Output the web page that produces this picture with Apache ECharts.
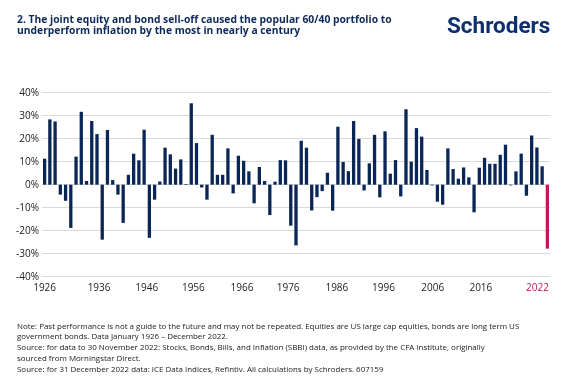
<!DOCTYPE html>
<html>
<head>
<meta charset="utf-8">
<script src="https://cdn.jsdelivr.net/npm/echarts@6/dist/echarts.min.js"></script>
<style>
html,body{margin:0;padding:0;background:#fff;}
#c{width:568px;height:379px;}
</style>
</head>
<body>
<div id="c"></div>
<script>
const years = [];
for (let y = 1926; y <= 2022; y++) years.push(String(y));

const returns = [
  11.3, 28.4, 27.5, -4.3, -7.0, -18.8, 12.2, 31.7, 1.6, 27.7,
  22.0, -23.9, 23.8, 2.0, -4.3, -16.6, 4.3, 13.5, 10.6, 23.9,
  -23.1, -6.5, 1.4, 16.1, 13.2, 7.0, 11.0, 0.3, 35.4, 18.1,
  -1.2, -6.5, 21.7, 4.3, 4.3, 15.8, -3.8, 12.6, 10.4, 5.8,
  -8.1, 7.7, 1.6, -13.2, 1.3, 10.7, 10.6, -17.8, -26.4, 19.1,
  16.1, -11.2, -5.4, -2.8, 5.2, -11.3, 25.2, 9.9, 5.9, 27.7,
  19.9, -2.5, 9.3, 21.7, -5.5, 23.2, 4.8, 10.7, -5.1, 32.8,
  10.0, 24.6, 20.9, 6.4, -0.3, -7.4, -8.7, 15.8, 6.8, 2.6,
  7.5, 3.2, -12.0, 7.4, 11.7, 9.1, 9.1, 13.0, 17.4, -0.3,
  5.8, 13.5, -4.8, 21.4, 16.2, 8.0, -27.8
];

const tickLabels = ['1926', '1936', '1946', '1956', '1966', '1976', '1986', '1996', '2006', '2016', '2022'];
const tickLabelPositions = [1926, 1936.4, 1945.5, 1954.4, 1963.7, 1972.5, 1981.8, 1990.7, 2000.1, 2009.3, 2020.1];

const navy = '#0a2656';
const pink = '#c2185b';

const chart = echarts.init(document.getElementById('c'), null, {renderer: 'canvas'});
chart.setOption({
  animation: false,
  backgroundColor: '#fff',
  title: [
    {
      text: '2. The joint equity and bond sell-off caused the popular 60/40 portfolio to\nunderperform inflation by the most in nearly a century',
      left: 17, top: 15, padding: 0,
      textStyle: {fontFamily: 'Open Sans', fontWeight: 'bold', fontSize: 10.3, lineHeight: 10.5, color: '#0d2a5a'}
    },
    {
      text: 'Schroders',
      left: 447, top: 16, padding: 0,
      textStyle: {fontFamily: 'Roboto', fontWeight: 'bold', fontSize: 22.5, color: '#0e2f6e'}
    },
    {
      text: 'Note: Past performance is not a guide to the future and may not be repeated. Equities are US large cap equities, bonds are long term US\ngovernment bonds. Data January 1926 \u2013 December 2022.\nSource: for data to 30 November 2022: Stocks, Bonds, Bills, and Inflation (SBBI) data, as provided by the CFA Institute, originally\nsourced from Morningstar Direct.\nSource: for 31 December 2022 data: ICE Data Indices, Refintiv. All calculations by Schroders. 607159',
      left: 17, top: 321, padding: 0,
      textStyle: {fontFamily: 'Open Sans', fontWeight: 'normal', fontSize: 7.95, lineHeight: 10.8, color: '#1a1a1a'}
    }
  ],
  grid: {left: 42, right: 18, top: 92.7, bottom: 102.3, containLabel: false},
  xAxis: [
    {
      type: 'category', data: years, boundaryGap: true,
      axisLine: {show: false}, axisTick: {show: false}, axisLabel: {show: false}, splitLine: {show: false}
    },
    {
      type: 'value', min: 1925.5, max: 2022.5, position: 'bottom',
      axisLine: {show: false}, axisTick: {show: false}, splitLine: {show: false},
      axisLabel: {
        show: true, margin: 6, customValues: tickLabelPositions,
        fontFamily: 'Open Sans', fontSize: 10, color: '#222',
        formatter: function (v) {
          let best = 0, bd = 1e9;
          tickLabelPositions.forEach(function (p, i) { const d = Math.abs(p - v); if (d < bd) { bd = d; best = i; } });
          const t = tickLabels[best];
          return t === '2022' ? '{p|' + t + '}' : t;
        },
        rich: {p: {color: pink, fontFamily: 'Open Sans', fontSize: 10}}
      }
    }
  ],
  yAxis: {
    type: 'value', min: -40, max: 40, interval: 10,
    axisLine: {show: false}, axisTick: {show: false},
    splitLine: {show: true, lineStyle: {color: '#d9d9d9', width: 1}},
    axisLabel: {margin: 3, fontFamily: 'Open Sans', fontSize: 10, color: '#222', formatter: function (v) { return v + '%'; }}
  },
  series: [{
    type: 'bar', xAxisIndex: 0,
    data: returns.map(function (v, i) {
      return {value: v, itemStyle: {color: years[i] === '2022' ? pink : navy}};
    }),
    barCategoryGap: '37%'
  }]
});
</script>
</body>
</html>
